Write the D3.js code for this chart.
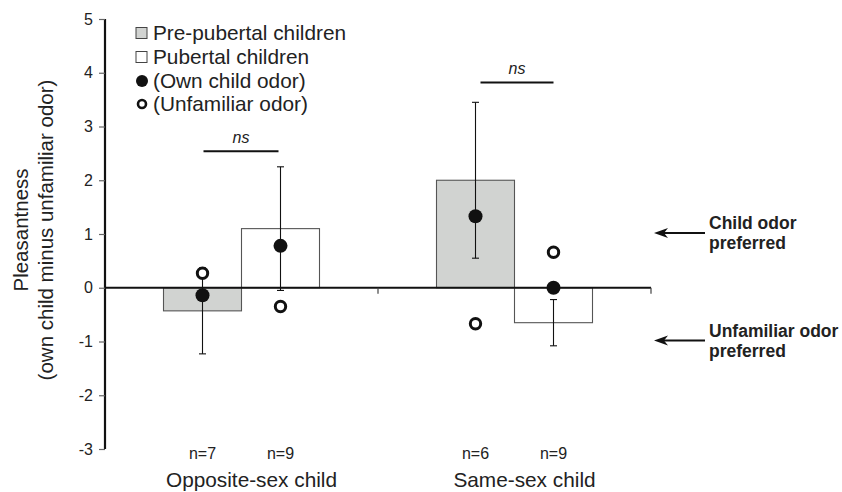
<!DOCTYPE html>
<html>
<head>
<meta charset="utf-8">
<script src="https://cdn.jsdelivr.net/npm/d3@7"></script>
<style>
  body { margin: 0; background: #fff; }
  svg { display: block; font-family: "Liberation Sans", Arial, Helvetica, sans-serif; }
</style>
</head>
<body>
<svg id="chart" width="842" height="492"></svg>
<script>
// ---- data ----
const categories = ["Opposite-sex child", "Same-sex child"];
const groups = ["Pre-pubertal children", "Pubertal children"];
const barValues = [[-0.43, 1.10], [2.00, -0.65]];
const errValues = [[0.80, 1.15], [1.45, 0.43]];
const ownChild = [[-0.14, 0.78], [1.33, 0.00]];
const unfamiliar = [[0.27, -0.35], [-0.67, 0.66]];
const nLabels = [["n=7", "n=9"], ["n=6", "n=9"]];
const nsLevels = [2.54, 3.82];
const yTicks = [-3, -2, -1, 0, 1, 2, 3, 4, 5];
const annotations = [
  { value: 1, lines: ["Child odor", "preferred"] },
  { value: -1, lines: ["Unfamiliar odor", "preferred"] }
];
const legendItems = ["Pre-pubertal children", "Pubertal children", "(Own child odor)", "(Unfamiliar odor)"];
const barFill = ["#d1d3d1", "#ffffff"];

(function () {
// ---- layout ----
const svg = d3.select("#chart");
const mLeft = 105, mRight = 651, mTop = 19, mBottom = 449;

const y = d3.scaleLinear().domain([-3, 5]).range([mBottom, mTop]);
const x0 = d3.scaleBand().domain(categories).range([mLeft, mRight]).paddingInner(0).paddingOuter(0);
const x1 = d3.scaleBand().domain(groups).range([0, x0.bandwidth()]).paddingInner(0).paddingOuter(0.75);

// y axis
const yAxis = d3.axisLeft(y).tickValues(yTicks).tickSize(6).tickPadding(6).tickFormat(d => String(d));
const yg = svg.append("g").attr("transform", `translate(${mLeft},0)`).call(yAxis);
yg.select(".domain").attr("stroke", "#111").attr("stroke-width", 2.2).attr("d", `M0,${mTop}V${mBottom}`);
yg.selectAll(".tick line").attr("stroke", "#666").attr("stroke-width", 1.2);
yg.selectAll(".tick text").attr("font-size", 16).attr("fill", "#222")
  .attr("font-family", "Liberation Sans, Arial, sans-serif");

// y axis title
const yt = svg.append("text").attr("transform", `translate(28,${(77 + 383) / 2}) rotate(-90)`)
  .attr("text-anchor", "middle").attr("font-size", 20.5).attr("fill", "#222");
yt.append("tspan").attr("x", 0).attr("dy", 0).text("Pleasantness");
yt.append("tspan").attr("x", 0).attr("dy", 25).text("(own child minus unfamiliar odor)");

// bars
const data = [];
categories.forEach((c, i) => groups.forEach((g, j) => data.push({
  c, g, j,
  v: barValues[i][j], e: errValues[i][j],
  own: ownChild[i][j], unf: unfamiliar[i][j], n: nLabels[i][j]
})));
const cx = d => x0(d.c) + x1(d.g) + x1.bandwidth() / 2;

svg.append("g").selectAll("rect").data(data).join("rect")
  .attr("x", d => x0(d.c) + x1(d.g))
  .attr("width", x1.bandwidth())
  .attr("y", d => y(Math.max(0, d.v)))
  .attr("height", d => Math.abs(y(d.v) - y(0)))
  .attr("fill", d => barFill[d.j])
  .attr("stroke", "#555").attr("stroke-width", 1.1);

// error bars
const eg = svg.append("g").attr("stroke", "#111").attr("stroke-width", 1.1);
data.forEach(d => {
  const x = cx(d);
  eg.append("line").attr("x1", x).attr("x2", x).attr("y1", y(d.v - d.e)).attr("y2", y(d.v + d.e));
  [d.v - d.e, d.v + d.e].forEach(v =>
    eg.append("line").attr("x1", x - 3.5).attr("x2", x + 3.5).attr("y1", y(v)).attr("y2", y(v)));
});

// zero line (x axis) with ticks at category boundaries
const xg = svg.append("g");
xg.append("line").attr("x1", mLeft).attr("x2", mRight).attr("y1", y(0)).attr("y2", y(0))
  .attr("stroke", "#111").attr("stroke-width", 2.2);
[x0(categories[1]), mRight].forEach(xv =>
  xg.append("line").attr("x1", xv).attr("x2", xv).attr("y1", y(0)).attr("y2", y(0) + 6)
    .attr("stroke", "#444").attr("stroke-width", 1.2));

// points
svg.append("g").selectAll("circle").data(data).join("circle")
  .attr("cx", cx).attr("cy", d => y(d.unf)).attr("r", 5.2)
  .attr("fill", "#fff").attr("stroke", "#111").attr("stroke-width", 3);
svg.append("g").selectAll("circle").data(data).join("circle")
  .attr("cx", cx).attr("cy", d => y(d.own)).attr("r", 7)
  .attr("fill", "#111");

// n labels
svg.append("g").selectAll("text").data(data).join("text")
  .attr("x", cx).attr("y", 459).attr("text-anchor", "middle")
  .attr("font-size", 16).attr("fill", "#222").text(d => d.n);

// category labels
svg.append("g").selectAll("text").data(categories).join("text")
  .attr("x", d => x0(d) + x0.bandwidth() / 2 + 10).attr("y", 487).attr("text-anchor", "middle")
  .attr("font-size", 20.8).attr("fill", "#222").text(d => d);

// ns brackets
categories.forEach((c, i) => {
  const xa = x0(c) + x1(groups[0]) + x1.bandwidth() / 2 + 1 + i * 4;
  const xb = x0(c) + x1(groups[1]) + x1.bandwidth() / 2 - 2 + i * 2;
  svg.append("line").attr("x1", xa).attr("x2", xb).attr("y1", y(nsLevels[i])).attr("y2", y(nsLevels[i]))
    .attr("stroke", "#111").attr("stroke-width", 2);
  svg.append("text").attr("x", (xa + xb) / 2).attr("y", y(nsLevels[i]) - 8)
    .attr("text-anchor", "middle").attr("font-style", "italic").attr("font-size", 16)
    .attr("fill", "#222").text("ns");
});

// annotations with arrows
annotations.forEach(a => {
  const ay = y(a.value) - 1;
  svg.append("line").attr("x1", 664).attr("x2", 705).attr("y1", ay).attr("y2", ay)
    .attr("stroke", "#111").attr("stroke-width", 1.8);
  svg.append("path").attr("d", `M654,${ay} L668,${ay - 5} L664,${ay} L668,${ay + 5} Z`)
    .attr("fill", "#111");
  const t = svg.append("text").attr("x", 709).attr("y", ay - 4)
    .attr("font-weight", "bold").attr("font-size", 17.5).attr("fill", "#222");
  a.lines.forEach((l, k) => t.append("tspan").attr("x", 709).attr("dy", k === 0 ? 0 : 20).text(l));
});

// legend
const lg = svg.append("g");
const rowY = [33, 57, 81, 104];
legendItems.forEach((item, k) => {
  const ry = rowY[k];
  if (k < 2) {
    lg.append("rect").attr("x", 136).attr("y", ry - 5.5).attr("width", 11).attr("height", 11)
      .attr("fill", barFill[k]).attr("stroke", "#444").attr("stroke-width", 1);
  } else if (k === 2) {
    lg.append("circle").attr("cx", 142).attr("cy", ry).attr("r", 6).attr("fill", "#111");
  } else {
    lg.append("circle").attr("cx", 142).attr("cy", ry).attr("r", 4).attr("fill", "#fff")
      .attr("stroke", "#111").attr("stroke-width", 2.6);
  }
  lg.append("text").attr("x", 153).attr("y", ry + 7).attr("font-size", 20.8)
    .attr("fill", "#222").text(item);
});
})();
</script>
</body>
</html>
